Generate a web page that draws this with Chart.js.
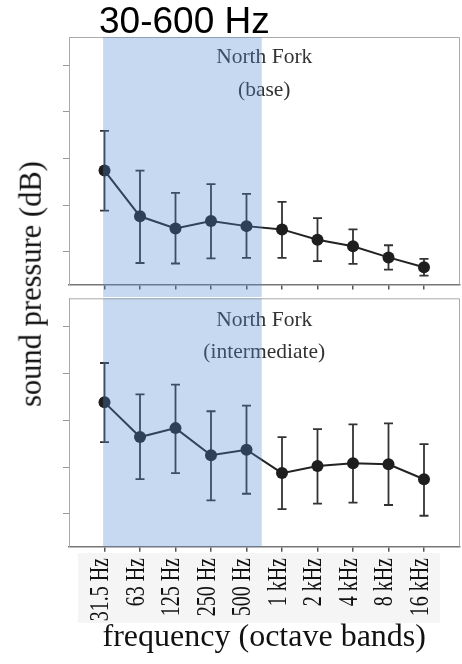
<!DOCTYPE html>
<html>
<head>
<meta charset="utf-8">
<script src="https://cdn.jsdelivr.net/npm/chart.js@4"></script>
<style>
  html, body { margin: 0; padding: 0; background: #fff; }
  #wrap { position: relative; width: 462px; height: 664px; overflow: hidden; }
  #c1 { position: absolute; left: 0; top: 0; }
  #c2 { position: absolute; left: 0; top: 297px; }
  #ytitle {
    position: absolute; left: 31px; top: 283.5px;
    transform: translate(-50%, -50%) rotate(-90deg);
    font-family: "Liberation Serif", serif; font-size: 30.5px; color: #111;
    white-space: nowrap; line-height: 1;
  }
</style>
</head>
<body>
<div id="wrap">
  <canvas id="c1" width="462" height="297"></canvas>
  <canvas id="c2" width="462" height="367"></canvas>
  <div id="ytitle">sound pressure (dB)</div>
</div>
<script>
// Octave bands on the x axis
const categories = ['31.5 Hz', '63 Hz', '125 Hz', '250 Hz', '500 Hz', '1 kHz', '2 kHz', '4 kHz', '8 kHz', '16 kHz'];

// North Fork (base): mean level and the ends of each error bar, dB
const baseMean = [57.4, 47.6, 45.0, 46.6, 45.5, 44.8, 42.6, 41.2, 38.8, 36.7];
const baseHigh = [65.9, 57.4, 52.6, 54.5, 52.4, 50.7, 47.2, 44.8, 41.4, 38.5];
const baseLow  = [48.8, 37.6, 37.5, 38.6, 38.7, 38.7, 38.0, 37.4, 36.2, 34.9];

// North Fork (intermediate)
const interMean = [63.8, 56.4, 58.3, 52.5, 53.7, 48.7, 50.2, 50.8, 50.6, 47.4];
const interHigh = [72.2, 65.5, 67.6, 61.9, 63.1, 56.4, 58.1, 59.1, 59.3, 54.9];
const interLow  = [55.3, 47.4, 48.7, 42.9, 44.3, 41.0, 42.2, 42.4, 41.9, 39.6];

// Unlabelled y tick marks, dB
const yTickValues = [40, 50, 60, 70, 80];

// The 30-600 Hz band, in band-index units along the x axis
const bandFrom = -0.04;
const bandTo = 4.43;

const SERIF = '"Liberation Serif", "Times New Roman", serif';

function errorBarsAndFrame(cfg) {
  return {
    id: 'panelExtras',
    beforeDraw(chart) {
      if (!cfg.bandLabels) return;
      const ctx = chart.ctx, x = chart.scales.x;
      const x0 = x.getPixelForValue(0) - 26.5;
      const x1 = x.getPixelForValue(categories.length - 1) + 16;
      ctx.save();
      ctx.fillStyle = '#f5f5f5';
      ctx.fillRect(x0, x.top + 6.3, x1 - x0, 70);
      ctx.restore();
    },
    beforeDatasetsDraw(chart) {
      const ctx = chart.ctx, x = chart.scales.x, y = chart.scales.y;
      ctx.save();
      ctx.strokeStyle = '#333';
      ctx.lineWidth = 1.8;
      cfg.low.forEach((lo, i) => {
        const px = x.getPixelForValue(i);
        const pLo = y.getPixelForValue(lo);
        const pHi = y.getPixelForValue(cfg.high[i]);
        ctx.beginPath();
        ctx.moveTo(px, pLo); ctx.lineTo(px, pHi);
        ctx.moveTo(px - 4.5, pLo); ctx.lineTo(px + 4.5, pLo);
        ctx.moveTo(px - 4.5, pHi); ctx.lineTo(px + 4.5, pHi);
        ctx.stroke();
      });
      ctx.restore();
    },
    afterDraw(chart) {
      const ctx = chart.ctx, a = chart.chartArea, x = chart.scales.x;
      ctx.save();
      // top and right edges of the panel frame
      ctx.strokeStyle = '#aaa';
      ctx.lineWidth = 1;
      ctx.beginPath();
      ctx.moveTo(a.left, a.top + 0.5); ctx.lineTo(a.right, a.top + 0.5);
      ctx.lineTo(a.right, a.bottom);
      ctx.stroke();
      // octave band names, set upright and tall in narrow columns
      if (cfg.bandLabels) {
        ctx.fillStyle = '#111';
        ctx.font = '20px ' + SERIF;
        ctx.textAlign = 'right';
        ctx.textBaseline = 'middle';
        categories.forEach((name, i) => {
          ctx.save();
          ctx.translate(x.getPixelForValue(i) - 3.3, x.top + 11.3);
          ctx.rotate(-Math.PI / 2);
          ctx.scale(1, 1.34);
          ctx.fillText(name, 0, 0);
          ctx.restore();
        });
      }
      // site label
      ctx.fillStyle = '#333';
      ctx.font = '21.5px ' + SERIF;
      ctx.textAlign = 'center';
      ctx.textBaseline = 'middle';
      const cx = (a.left + a.right) / 2;
      ctx.fillText(cfg.label[0], cx, a.top + cfg.labelY[0]);
      ctx.fillText(cfg.label[1], cx, a.top + cfg.labelY[1]);
      // translucent 30-600 Hz band over everything in the panel
      const bx0 = x.getPixelForValue(bandFrom);
      const bx1 = x.getPixelForValue(bandTo);
      const bBottom = cfg.bandToCanvasBottom ? chart.height : a.bottom;
      ctx.fillStyle = 'rgba(78,137,208,0.32)';
      ctx.fillRect(bx0, a.top, bx1 - bx0, bBottom - a.top);
      if (cfg.title) {
        ctx.fillStyle = '#000';
        ctx.font = '37px "Liberation Sans", Arial, sans-serif';
        ctx.textAlign = 'left';
        ctx.textBaseline = 'alphabetic';
        ctx.fillText(cfg.title, 99, 33);
      }
      ctx.restore();
    }
  };
}

function makePanel(canvasId, mean, cfg, showTitle) {
  const points = mean.map((v, i) => ({ x: i, y: v }));
  return new Chart(document.getElementById(canvasId), {
    type: 'line',
    data: {
      datasets: [{
        data: points,
        borderColor: '#222',
        borderWidth: 2,
        pointRadius: 6,
        pointHoverRadius: 6,
        pointBackgroundColor: '#1e1e1e',
        pointBorderWidth: 0,
        tension: 0,
        clip: false
      }]
    },
    options: {
      responsive: false,
      animation: false,
      devicePixelRatio: 1,
      layout: { autoPadding: false, padding: cfg.padding },
      plugins: { legend: { display: false }, tooltip: { enabled: false }, title: { display: false } },
      scales: {
        x: {
          type: 'linear',
          min: -1,
          max: categories.length,
          afterBuildTicks: s => { s.ticks = categories.map((_, i) => ({ value: i })); },
          afterFit: s => { s.height = cfg.xHeight; },
          border: { display: true, color: '#777', width: 1.5 },
          grid: { drawOnChartArea: false, drawTicks: true, tickLength: 5, color: '#555', lineWidth: 1.5 },
          ticks: { display: false, callback: v => categories[v] },
          title: {
            display: showTitle,
            text: 'frequency (octave bands)',
            color: '#111',
            font: { family: SERIF, size: 32 },
            padding: { top: 0, bottom: 7 }
          }
        },
        y: {
          min: 33,
          max: 86,
          afterBuildTicks: s => { s.ticks = yTickValues.map(v => ({ value: v })); },
          afterFit: s => { s.width = 69; },
          border: { display: true, color: '#aaa', width: 1 },
          grid: { drawOnChartArea: false, drawTicks: true, tickLength: 6, color: '#999', lineWidth: 1 },
          ticks: { display: false }
        }
      }
    },
    plugins: [errorBarsAndFrame(cfg)]
  });
}

makePanel('c1', baseMean, {
  high: baseHigh, low: baseLow,
  label: ['North Fork', '(base)'], labelY: [20.7, 53],
  padding: { top: 37, right: 2.5, left: 0, bottom: 0 },
  xHeight: 12.5,
  bandToCanvasBottom: true,
  title: '30-600 Hz'
}, false);

makePanel('c2', interMean, {
  high: interHigh, low: interLow,
  label: ['North Fork', '(intermediate)'], labelY: [22.4, 54.4],
  padding: { top: 1.3, right: 2.5, left: 0, bottom: 0 },
  xHeight: 117.3,
  bandLabels: true
}, true);
</script>
</body>
</html>
